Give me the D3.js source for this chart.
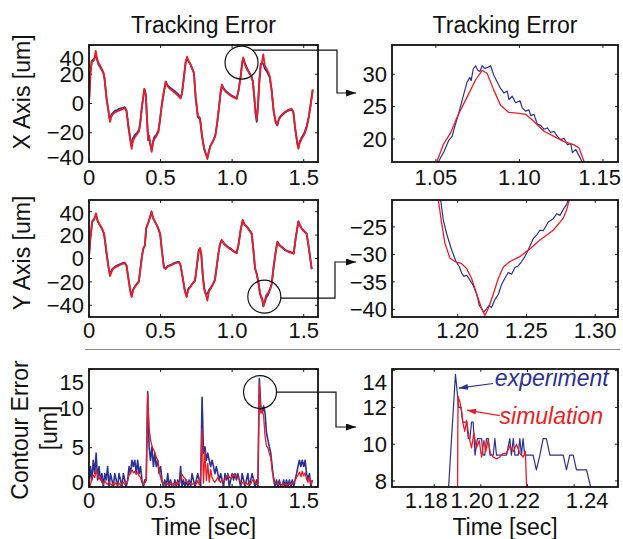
<!DOCTYPE html>
<html>
<head>
<meta charset="utf-8">
<script src="https://cdn.jsdelivr.net/npm/d3@7"></script>
<style>
body { margin: 0; background: #fff; }
svg text { font-family: "Liberation Sans", Arial, Helvetica, sans-serif; fill: #111; }
</style>
</head>
<body>
<svg id="chart" width="623" height="539"></svg>
<script>
// ---- data ----
// X axis tracking error (um) over time (sec)
const xTime = [0.000, 0.010, 0.019, 0.030, 0.037, 0.047, 0.056, 0.065, 0.077, 0.088, 0.100, 0.108, 0.123, 0.147, 0.155, 0.165, 0.180, 0.195, 0.215, 0.235,
    0.250, 0.262, 0.275, 0.290, 0.298, 0.306, 0.317, 0.335, 0.350, 0.360, 0.370, 0.380, 0.387, 0.397, 0.405, 0.413, 0.420, 0.428, 0.438, 0.447,
    0.456, 0.470, 0.485, 0.495, 0.510, 0.525, 0.536, 0.548, 0.565, 0.585, 0.605, 0.625, 0.640, 0.650, 0.662, 0.675, 0.685, 0.695, 0.708, 0.720,
    0.733, 0.745, 0.760, 0.776, 0.790, 0.804, 0.815, 0.827, 0.837, 0.848, 0.865, 0.882, 0.895, 0.908, 0.920, 0.929, 0.940, 0.955, 0.975, 0.995,
    1.015, 1.032, 1.045, 1.060, 1.070, 1.078, 1.088, 1.100, 1.118, 1.135, 1.145, 1.155, 1.165, 1.172, 1.180, 1.190, 1.200, 1.210, 1.218, 1.228,
    1.245, 1.262, 1.275, 1.290, 1.305, 1.315, 1.328, 1.345, 1.365, 1.390, 1.415, 1.428, 1.440, 1.455, 1.463, 1.472, 1.487, 1.505, 1.522, 1.535,
    1.550, 1.563]
const xSim = [0, 20, 28.6, 29, 30, 36, 31, 28, 26, 24, 21.5, 18, 3.5, -12.5, -9, -7.5, -6, -5.5, -4.5, -4,
    -3, -5, -16, -26, -31, -26, -23.5, -21, -19, -12, -2, 5, 10, 6, -10, -24, -22, -27, -33, -27,
    -24.5, -22.5, -19.5, -12, 0, 9, 15, 12, 10, 8.5, 7, 5, 3.5, 7, 17, 28, 32, 29, 27, 24,
    21, 5, -8, -10, -22, -30, -34, -38, -33, -29, -26, -22.5, -14, -3, 8, 13, 10, 8, 6.5, 5,
    4, 3.2, 9, 18, 27, 31.5, 27, 24, 21, 18.5, 15, 4, -7, -11, -2, 14, 26, 29, 33.5, 26,
    23, 19, 10, -5, -13, -14.5, -10, -8, -6, -4.5, -3.5, -6, -16, -27, -31, -27, -24, -21, -16, -10,
    0, 9.5]
const xExp = [0, 22, 29, 30, 31, 33, 30, 27, 25, 23, 21, 17, 3, -12, -8, -6.5, -5, -4.5, -3.5, -3,
    -2.5, -5, -15, -25, -29, -24, -22, -20, -18, -11, -2, 5, 10, 6, -10, -25, -24, -28, -32, -26,
    -23, -21.5, -18.5, -12, 0, 9, 15, 12.5, 11, 9.5, 8, 6, 4, 7, 17, 28, 31, 29, 27, 24,
    21, 4, -9, -11, -23, -31, -34, -37, -33, -29, -26, -22, -14, -3, 8, 12.5, 10.5, 8.5, 7, 5.5,
    4.5, 3.5, 9, 19, 28, 31, 28, 25, 21.5, 18.5, 15, 4, -8, -12.5, -3, 16, 27, 27.5, 27, 24,
    21.5, 18, 10, -5, -13, -15, -10.5, -8.5, -6.5, -5, -4, -6, -17, -27, -30, -26, -23, -20, -15, -9,
    0, 9.5]

// Y axis tracking error (um)
const yTime = [0.000, 0.010, 0.023, 0.037, 0.049, 0.061, 0.075, 0.090, 0.105, 0.115, 0.123, 0.135, 0.147, 0.160, 0.175, 0.195, 0.215, 0.235, 0.250, 0.262,
    0.275, 0.288, 0.298, 0.308, 0.320, 0.335, 0.348, 0.360, 0.370, 0.380, 0.390, 0.400, 0.415, 0.427, 0.437, 0.447, 0.460, 0.473, 0.487, 0.497,
    0.510, 0.524, 0.536, 0.550, 0.570, 0.595, 0.615, 0.630, 0.640, 0.655, 0.670, 0.682, 0.693, 0.710, 0.728, 0.741, 0.755, 0.767, 0.776, 0.785,
    0.795, 0.804, 0.815, 0.827, 0.838, 0.850, 0.867, 0.880, 0.893, 0.904, 0.915, 0.927, 0.940, 0.955, 0.975, 0.995, 1.015, 1.032, 1.045, 1.060,
    1.074, 1.087, 1.102, 1.120, 1.137, 1.148, 1.160, 1.172, 1.184, 1.195, 1.203, 1.210, 1.218, 1.228, 1.238, 1.253, 1.265, 1.276, 1.290, 1.305,
    1.316, 1.328, 1.346, 1.370, 1.395, 1.420, 1.430, 1.445, 1.463, 1.475, 1.487, 1.505, 1.521, 1.535, 1.556]
const ySim = [1.5, 18, 31.5, 33.5, 38.6, 32, 29, 26, 21.5, 12, 4.4, -6, -15, -10.5, -8, -7, -5.5, -4.5, -4, -6,
    -17, -28, -33, -27, -24.5, -22, -20, -8, 2, 8.6, 11, 26, 31, 36, 40.5, 35, 32, 29, 25, 21,
    6, -8, -9, -7, -6, -4.5, -3.5, -3.5, -6, -17, -28, -33, -27, -24, -21, -19, -5, 7, 9, 3,
    -15, -26, -30, -36, -28, -26, -22, -18.5, -6, 4, 12, 16, 13, 11, 9, 7.5, 5.5, 4.5, 12, 25,
    33, 29, 27, 24, 21, 8, -8.5, -13, -20, -31, -32, -34.5, -41, -36, -31.5, -29, -26, -22, -7, 6,
    14, 11.5, 9.5, 7, 5.5, 4.5, 4, 18, 32, 28, 25.5, 23, 21, 10, -9]
const yExp = [1.5, 19, 32, 34, 37.5, 31.5, 28.5, 25.5, 21, 12, 4, -6.5, -14, -9.5, -7.5, -6, -5, -4, -3.5, -6,
    -16.5, -27, -32, -26.5, -24, -21.5, -19.5, -8, 2, 8.6, 11, 26, 31, 35.5, 39.5, 34.5, 31.5, 28.5, 24.5, 21,
    6, -7.5, -8.5, -6.5, -5.5, -4, -3, -3, -6, -16.5, -27.5, -32, -26, -23.5, -20.5, -18.5, -5, 7, 8.5, 3,
    -14, -24, -30.5, -30, -27, -25, -21.5, -18, -6, 4, 12, 15.5, 13.5, 11.5, 9.5, 8, 6, 5, 12, 24.5,
    32.5, 29, 27.5, 24.5, 21.5, 8, -8, -13.5, -21, -29.5, -33.5, -35, -40.5, -37.5, -33.5, -30.5, -26.5, -22, -7, 6,
    14.5, 12, 10, 7.5, 6, 5, 4.5, 18, 31.5, 28, 25.5, 23, 21, 10, -9]

// Contour error (um), sampled every 0.01 sec from t = 0
const contourStep = 0.01
const contourExp = [0, 2.6, 0.9, 3.4, 1.7, 4.3, 0.9, 2.6, 0.9, 1.7,
    0, 1.7, 0.9, 2.6, 0, 1.7, 0.9, 0, 1.7, 0.9,
    0, 1.7, 0.9, 0, 1.7, 0.9, 0, 0.9, 2.6, 1.7,
    3.4, 2.6, 3.4, 1.7, 3.4, 1.7, 2.6, 0.9, 0, 0.9,
    0.9, 12.1, 5.1, 3.4, 5.1, 2.6, 4.3, 2.6, 3.4, 1.7,
    2.6, 0.9, 0, 0.9, 0, 1.7, 0, 0.9, 0, 0,
    0.9, 0, 0.9, 0, 2.6, 0, 0.9, 0, 0.9, 0,
    0.9, 0, 1.7, 0.9, 0, 0.9, 1.7, 0.9, 0, 11.4,
    4.3, 5.1, 3.4, 4.3, 3.4, 2.6, 3.4, 2.6, 1.7, 2.6,
    1.7, 0.9, 1.7, 0.9, 0, 1.7, 0.9, 1.7, 0, 0.9,
    1.7, 0.9, 1.7, 0.9, 1.7, 0.9, 0, 1.7, 0.9, 0,
    0.9, 1.7, 0, 0.9, 1.7, 0.9, 0, 0.9, 0, 13.8,
    10.3, 9.4, 10.3, 9.4, 6.9, 6.0, 5.1, 4.3, 2.6, 0.9,
    0, 0.9, 0, 0.9, 0, 0, 0.9, 0, 0.9, 0,
    0.9, 0, 0.9, 0, 0.9, 1.7, 2.6, 3.4, 2.6, 3.4,
    2.6, 3.4, 1.7, 0.9, 1.7, 0, 0.9]
const contourSim = [0, 0.3, 1.0, 1.5, 1.2, 2.2, 1.5, 1.0, 1.3, 0.6,
    0.4, 0.8, 0.5, 0.3, 0.6, 0.4, 0.2, 0.5, 0.3, 0.6,
    0.3, 0.5, 0.2, 0.4, 0.6, 0.3, 0.5, 0.8, 1.5, 1.9,
    2.2, 1.8, 2.0, 1.6, 1.9, 1.4, 1.2, 0.6, 0.3, 0.5,
    0.8, 11.8, 7.5, 6.0, 5.2, 4.8, 4.4, 3.8, 3.4, 2.2,
    1.2, 0.6, 0.4, 0.3, 0.5, 0.4, 0.3, 0.6, 0.4, 0.3,
    0.5, 0.3, 0.6, 0.4, 1.0, 1.6, 1.3, 1.1, 0.8, 0.5,
    0.6, 0.4, 0.3, 0.5, 0.3, 0.4, 0.8, 0.3, 1.5, 7.4,
    0.5, 4.5, 0.8, 3.0, 0.6, 2.2, 1.2, 0.8, 0.6, 0.9,
    1.2, 0.8, 0.6, 1.0, 0.7, 0.9, 1.2, 1.5, 1.3, 1.0,
    1.4, 1.6, 1.3, 1.5, 1.2, 0.9, 0.7, 0.5, 0.6, 0.4,
    0.5, 0.3, 0.6, 0.4, 0.8, 1.0, 0.6, 0.4, 0.3, 13.2,
    9.4, 9.8, 9.0, 6.5, 5.2, 5.0, 4.2, 3.8, 2.0, 1.2,
    0.6, 0.4, 0.5, 0.3, 0.4, 0.2, 0.3, 0.4, 0.2, 0.3,
    0.4, 0.3, 0.5, 0.6, 0.9, 1.2, 1.5, 1.9, 1.3, 2.0,
    1.4, 1.8, 1.0, 0.6, 1.2, 0.4, 0.8]

// zoomed views: [time, value]
const xZoomSim = [[1.0490, 15.5], [1.0505, 16.5], [1.0547, 19.3], [1.0587, 20.9], [1.0627, 23.4], [1.0687, 26.5], [1.0737, 29.1], [1.0777, 30.6],
    [1.0807, 30.1], [1.0847, 27.5], [1.0887, 25.2], [1.0937, 24.1], [1.0987, 24.0], [1.1037, 23.8], [1.1087, 22.7], [1.1147, 21.2],
    [1.1207, 20.4], [1.1267, 19.6], [1.1327, 19.1], [1.1357, 18.6], [1.1387, 16.5], [1.1400, 15.5]]
const xZoomExp = [[1.0500, 15.5], [1.0515, 16.5], [1.0547, 18.0], [1.0577, 19.8], [1.0597, 20.4], [1.0607, 21.4], [1.0637, 24.0], [1.0657, 26.0],
    [1.0687, 28.8], [1.0703, 29.5], [1.0711, 29.0], [1.0723, 30.8], [1.0737, 31.3], [1.0751, 30.6], [1.0763, 30.4], [1.0777, 31.3],
    [1.0791, 30.9], [1.0807, 31.0], [1.0827, 31.3], [1.0847, 29.8], [1.0867, 28.8], [1.0887, 27.8], [1.0907, 27.1], [1.0927, 27.4],
    [1.0937, 26.1], [1.0957, 26.6], [1.0977, 25.6], [1.1003, 25.9], [1.1017, 24.8], [1.1037, 24.3], [1.1057, 24.5], [1.1067, 23.6],
    [1.1087, 23.8], [1.1107, 22.3], [1.1127, 22.1], [1.1147, 21.5], [1.1167, 21.7], [1.1187, 21.0], [1.1207, 21.2], [1.1227, 20.4],
    [1.1247, 19.9], [1.1267, 20.1], [1.1287, 19.1], [1.1307, 19.3], [1.1317, 17.9], [1.1337, 18.4], [1.1367, 16.9], [1.1377, 16.3], [1.1390, 15.5]]

const yZoomSim = [[1.1850, -19], [1.1859, -20.1], [1.1883, -24.3], [1.1907, -28.0], [1.1944, -30.7], [1.1980, -31.3], [1.2029, -31.7],
    [1.2065, -32.6], [1.2101, -34.4], [1.2138, -37.2], [1.2174, -39.9], [1.2198, -41.1], [1.2222, -39.9], [1.2259, -37.2],
    [1.2295, -34.4], [1.2332, -32.3], [1.2380, -31.3], [1.2453, -30.4], [1.2525, -29.0], [1.2598, -27.4], [1.2695, -25.6],
    [1.2768, -23.4], [1.2792, -21.9], [1.2812, -20.1], [1.2820, -19]]
const yZoomExp = [[1.1868, -19], [1.1876, -20.1], [1.1895, -23.7], [1.1919, -26.2], [1.1956, -29.2], [1.1970, -30.1], [1.1987, -31.3],
    [1.2011, -32.2], [1.2029, -33.4], [1.2045, -34.0], [1.2065, -33.8], [1.2089, -34.7], [1.2114, -35.7], [1.2138, -37.2],
    [1.2157, -39.3], [1.2174, -39.9], [1.2190, -40.5], [1.2210, -39.9], [1.2228, -39.3], [1.2245, -39.7], [1.2271, -38.2],
    [1.2295, -37.3], [1.2319, -35.5], [1.2344, -34.3], [1.2368, -33.3], [1.2392, -33.6], [1.2416, -32.4], [1.2440, -32.1],
    [1.2465, -31.3], [1.2489, -30.4], [1.2513, -29.2], [1.2550, -27.1], [1.2574, -26.5], [1.2598, -25.6], [1.2622, -25.7],
    [1.2659, -24.1], [1.2695, -23.5], [1.2720, -22.6], [1.2744, -22.9], [1.2768, -21.8], [1.2792, -20.9], [1.2804, -20.1], [1.2810, -19]]

const contourZoomExp = [[1.1860, 7.3], [1.1891, 13.8], [1.1905, 12.0], [1.1915, 12.0], [1.1922, 11.2], [1.1939, 11.2], [1.1946, 10.3],
    [1.1953, 10.3], [1.1960, 11.2], [1.1967, 11.2], [1.1975, 9.4], [1.1985, 10.3], [1.2003, 10.3], [1.2010, 9.4], [1.2017, 9.4],
    [1.2024, 10.3], [1.2032, 10.3], [1.2039, 9.4], [1.2053, 9.4], [1.2060, 10.3], [1.2067, 9.4], [1.2110, 9.4], [1.2124, 10.3],
    [1.2131, 9.4], [1.2139, 10.3], [1.2146, 9.4], [1.2160, 9.4], [1.2167, 10.3], [1.2174, 9.4], [1.2181, 10.3], [1.2188, 9.4],
    [1.2224, 9.4], [1.2238, 8.6], [1.2253, 9.4], [1.2267, 10.3], [1.2281, 10.3], [1.2296, 9.4], [1.2353, 9.4], [1.2367, 8.6],
    [1.2381, 9.4], [1.2396, 9.4], [1.2410, 8.6], [1.2453, 8.6], [1.2478, 7.3]]
const contourZoomSim = [[1.1900, 7.3], [1.1902, 12.6], [1.1910, 12.3], [1.1917, 11.85], [1.1924, 11.1], [1.1931, 10.7], [1.1939, 11.3],
    [1.1949, 10.4], [1.1960, 9.8], [1.1970, 10.6], [1.1981, 9.8], [1.1993, 10.2], [1.2003, 9.3], [1.2013, 10.2], [1.2021, 9.6],
    [1.2031, 10.2], [1.2041, 9.5], [1.2053, 9.3], [1.2067, 9.2], [1.2081, 9.3], [1.2096, 9.5], [1.2110, 9.5], [1.2124, 9.9],
    [1.2139, 9.6], [1.2153, 10.0], [1.2167, 9.5], [1.2181, 9.3], [1.2191, 9.6], [1.2197, 7.3]]

// ticks
const timeTicks = [0, 0.5, 1.0, 1.5]
const trackTicks = [-40, -20, 0, 20, 40]
const contourTicks = [0, 5, 10, 15]
const xZoomTimeTicks = [1.05, 1.10, 1.15]
const xZoomTicks = [20, 25, 30]
const yZoomTimeTicks = [1.20, 1.25, 1.30]
const yZoomTicks = [-40, -35, -30, -25]
const contourZoomTimeTicks = [1.18, 1.20, 1.22, 1.24]
const contourZoomTicks = [8, 10, 12, 14]

// ---- drawing ----
const blue = '#2b3192'
const red = '#ed1c24'
const svg = d3.select('#chart')
const defs = svg.append('defs')
const fontSize = 23
const tickFont = 22
const svgWidth = 623

function addMarker(id, color, len, wid) {
    defs.append('marker')
        .attr('id', id)
        .attr('markerUnits', 'userSpaceOnUse')
        .attr('markerWidth', len).attr('markerHeight', wid)
        .attr('refX', len).attr('refY', wid / 2)
        .attr('orient', 'auto')
        .append('path')
        .attr('d', `M0,0L${len},${wid / 2}L0,${wid}Z`)
        .attr('fill', color)
}
addMarker('arrowBlack', '#111', 10, 7)
addMarker('arrowBlue', blue, 9, 6)
addMarker('arrowRed', red, 9, 6)

function makePanel(p) {
    const x = d3.scaleLinear().domain(p.xDomain).range([p.left, p.right])
    const y = d3.scaleLinear().domain(p.yDomain).range([p.bottom, p.top])
    defs.append('clipPath').attr('id', 'clip-' + p.id)
        .append('rect')
        .attr('x', p.left).attr('y', p.top)
        .attr('width', p.right - p.left).attr('height', p.bottom - p.top)
    const g = svg.append('g')
    const tickLen = 3
    p.xTicks.forEach((t, i) => {
        g.append('line').attr('x1', x(t)).attr('x2', x(t)).attr('y1', p.bottom).attr('y2', p.bottom - tickLen).attr('stroke', '#222')
        g.append('line').attr('x1', x(t)).attr('x2', x(t)).attr('y1', p.top).attr('y2', p.top + tickLen).attr('stroke', '#222')
        const shift = p.xLabelShift ? p.xLabelShift[i] : 0
        const txt = g.append('text')
            .attr('x', x(t) + shift).attr('y', p.bottom + p.xLabelGap)
            .attr('dy', '0.35em')
            .attr('text-anchor', 'middle')
            .attr('font-size', tickFont)
            .text(p.xFormat(t))
        // keep the label inside the picture
        const w = txt.node().getComputedTextLength()
        if (x(t) + shift + w / 2 > svgWidth - 2) txt.attr('x', svgWidth - 2 - w / 2)
    })
    p.yTicks.forEach(v => {
        g.append('line').attr('x1', p.left).attr('x2', p.left + tickLen).attr('y1', y(v)).attr('y2', y(v)).attr('stroke', '#222')
        g.append('line').attr('x1', p.right).attr('x2', p.right - tickLen).attr('y1', y(v)).attr('y2', y(v)).attr('stroke', '#222')
        // labels at the frame ends are pushed inside, like the original
        const ly = Math.max(p.top + 13, Math.min(p.bottom - 5, y(v)))
        g.append('text')
            .attr('x', p.left - 5).attr('y', ly)
            .attr('dy', '0.35em')
            .attr('text-anchor', 'end')
            .attr('font-size', tickFont)
            .text(p.yFormat(v))
    })
    const plot = g.append('g').attr('clip-path', `url(#clip-${p.id})`)
    const frame = () => g.append('rect')
        .attr('x', p.left).attr('y', p.top)
        .attr('width', p.right - p.left).attr('height', p.bottom - p.top)
        .attr('fill', 'none').attr('stroke', '#111').attr('stroke-width', 1.8)
    return { x, y, g, plot, frame }
}

function drawSeries(panel, points, color, width) {
    const line = d3.line().x(d => panel.x(d[0])).y(d => panel.y(d[1]))
    panel.plot.append('path')
        .datum(points)
        .attr('d', line)
        .attr('fill', 'none')
        .attr('stroke', color)
        .attr('stroke-width', width)
        .attr('stroke-linejoin', 'round')
}

const zip = (ts, vs) => ts.map((t, i) => [t, vs[i]])
const stepped = vs => vs.map((v, i) => [i * contourStep, v])

const leftX = [89, 318]
const rightX = [392, 618]
const rows = [[45, 162], [200, 317], [369, 487]]
const fmt1 = d3.format('.1f')
const fmt2 = d3.format('.2f')
const fmtTime = t => t === 0 ? '0' : fmt1(t)

// left column
const pX = makePanel({ id: 'x', left: leftX[0], right: leftX[1], top: rows[0][0], bottom: rows[0][1], xDomain: [0, 1.6], yDomain: [-40, 40],
    xTicks: timeTicks, yTicks: trackTicks, xFormat: fmtTime, yFormat: d3.format('d'), xLabelGap: 15.5 })
drawSeries(pX, zip(xTime, xExp), blue, 1.8)
drawSeries(pX, zip(xTime, xSim), red, 1.8)
pX.frame()

const pY = makePanel({ id: 'y', left: leftX[0], right: leftX[1], top: rows[1][0], bottom: rows[1][1], xDomain: [0, 1.6], yDomain: [-50, 50],
    xTicks: timeTicks, yTicks: trackTicks, xFormat: fmtTime, yFormat: d3.format('d'), xLabelGap: 13 })
drawSeries(pY, zip(yTime, yExp), blue, 1.8)
drawSeries(pY, zip(yTime, ySim), red, 1.8)
pY.frame()

const pC = makePanel({ id: 'c', left: leftX[0], right: leftX[1], top: rows[2][0], bottom: rows[2][1], xDomain: [0, 1.6], yDomain: [0, 15],
    xTicks: timeTicks, yTicks: contourTicks, xFormat: fmtTime, yFormat: d3.format('d'), xLabelGap: 13 })
drawSeries(pC, stepped(contourExp), blue, 1.6)
drawSeries(pC, stepped(contourSim), red, 1.3)
pC.frame()

// right column (zooms)
const zX = makePanel({ id: 'zx', left: rightX[0], right: rightX[1], top: rows[0][0], bottom: rows[0][1], xDomain: [1.0237, 1.159], yDomain: [16.45, 34.5],
    xTicks: xZoomTimeTicks, yTicks: xZoomTicks, xFormat: fmt2, yFormat: d3.format('d'), xLabelGap: 15.5 })
drawSeries(zX, xZoomExp, blue, 1.2)
drawSeries(zX, xZoomSim, red, 1.3)
zX.frame()

const zY = makePanel({ id: 'zy', left: rightX[0], right: rightX[1], top: rows[1][0], bottom: rows[1][1], xDomain: [1.1522, 1.3166], yDomain: [-41.4, -20.1],
    xTicks: yZoomTimeTicks, yTicks: yZoomTicks, xFormat: fmt2, yFormat: d3.format('d'), xLabelGap: 13 })
drawSeries(zY, yZoomExp, blue, 1.2)
drawSeries(zY, yZoomSim, red, 1.3)
zY.frame()

const zC = makePanel({ id: 'zc', left: rightX[0], right: rightX[1], top: rows[2][0], bottom: rows[2][1], xDomain: [1.1619, 1.2588], yDomain: [7.67, 14.09],
    xTicks: contourZoomTimeTicks, yTicks: contourZoomTicks, xFormat: fmt2, yFormat: d3.format('d'), xLabelGap: 13,
    xLabelShift: [-8, -9, -9, 13] })
drawSeries(zC, contourZoomExp, blue, 1.2)
drawSeries(zC, contourZoomSim, red, 1.3)
zC.frame()

// titles and axis names
function label(txt, x, y, opts = {}) {
    const t = svg.append('text')
        .attr('transform', `translate(${x},${y})` + (opts.rotate ? ' rotate(-90)' : ''))
        .attr('dy', '0.35em')
        .attr('text-anchor', 'middle')
        .attr('font-size', fontSize)
        .text(txt)
    return t
}
label('Tracking Error', (leftX[0] + leftX[1]) / 2, 25)
label('Tracking Error', (rightX[0] + rightX[1]) / 2, 25)
label('X Axis [um]', 22, 92, { rotate: true })
label('Y Axis [um]', 22, 253, { rotate: true })
label('Contour Error', 20, 430, { rotate: true })
label('[um]', 49, 428, { rotate: true })
label('Time [sec]', (leftX[0] + leftX[1]) / 2, 527)
label('Time [sec]', (rightX[0] + rightX[1]) / 2, 527)

// magnifier circles with connectors
function magnifier(panel, t, v, r) {
    const cx = panel.x(t), cy = panel.y(v)
    svg.append('circle').attr('cx', cx).attr('cy', cy).attr('r', r)
        .attr('fill', 'none').attr('stroke', '#111').attr('stroke-width', 1.2)
    return { cx, cy }
}
const c1 = magnifier(pX, 1.0657, 28, 16.5)
const c2 = magnifier(pY, 1.225, -32.6, 16.5)
const c3 = magnifier(pC, 1.195, 12.07, 16.5)
const connectors = [
    [[c1.cx + 11, c1.cy - 12.5], [337, c1.cy - 12.5], [337, 93], [356, 93]],
    [[c2.cx + 16.5, c2.cy + 1.5], [335, c2.cy + 1.5], [335, 262], [356, 262]],
    [[c3.cx + 16.5, c3.cy], [336, c3.cy], [336, 427], [356, 427]]
]
connectors.forEach(pts => {
    svg.append('path')
        .attr('d', d3.line()(pts))
        .attr('fill', 'none')
        .attr('stroke', '#111')
        .attr('stroke-width', 1.2)
        .attr('marker-end', 'url(#arrowBlack)')
})

// separator between tracking and contour plots
svg.append('line').attr('x1', 85).attr('x2', 620).attr('y1', 349.5).attr('y2', 349.5)
    .attr('stroke', '#888').attr('stroke-width', 1)

// legend annotations in the contour zoom
const notes = [
    { text: 'experiment', color: blue, marker: 'arrowBlue', at: [1.2060, 13.15], tip: [1.1906, 13.05], from: [1.2052, 13.3] },
    { text: 'simulation', color: red, marker: 'arrowRed', at: [1.2080, 11.1], tip: [1.1941, 11.85], from: [1.2081, 11.55] }
]
notes.forEach(n => {
    svg.append('line')
        .attr('x1', zC.x(n.from[0])).attr('y1', zC.y(n.from[1]))
        .attr('x2', zC.x(n.tip[0])).attr('y2', zC.y(n.tip[1]))
        .attr('stroke', n.color).attr('stroke-width', 1.2)
        .attr('marker-end', `url(#${n.marker})`)
    svg.append('text')
        .attr('x', zC.x(n.at[0])).attr('y', zC.y(n.at[1]))
        .attr('font-size', fontSize)
        .attr('font-style', 'italic')
        .style('fill', n.color)
        .text(n.text)
})
</script>
</body>
</html>
